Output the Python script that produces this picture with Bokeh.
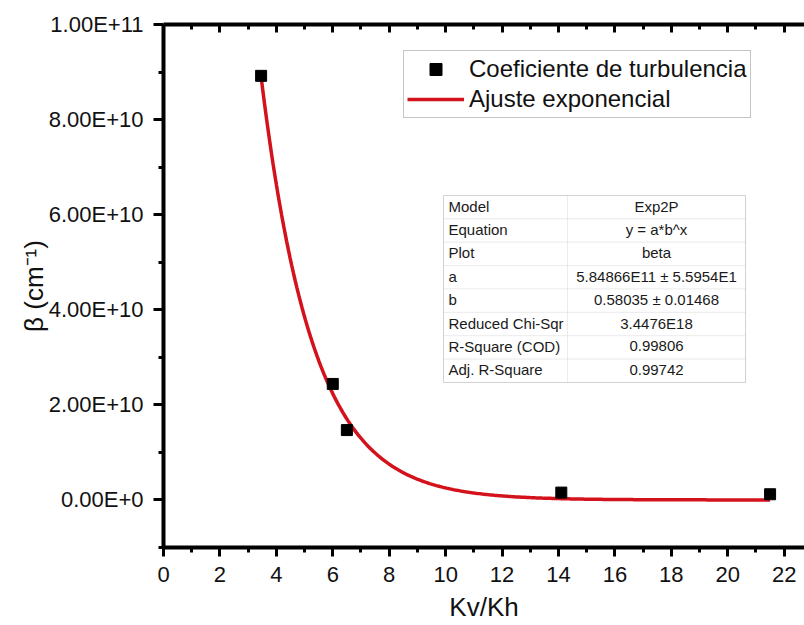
import numpy as np
from bokeh.plotting import figure
from bokeh.models import (Range1d, LinearAxis, FixedTicker, CustomJSTickFormatter,
                          Legend, LegendItem, BoxAnnotation, Label)
from bokeh.embed import file_html
from bokeh.resources import INLINE

# ---------------- data ----------------
kv_kh = [3.46, 6.0, 6.5, 14.1, 21.5]
beta = [8.92e10, 2.44e10, 1.47e10, 1.55e9, 1.2e9]

fit_a = 5.84866e11
fit_b = 0.58035

x_ticks = list(range(0, 23, 2))
x_minor = list(range(1, 23, 2))
y_ticks = [0, 2e10, 4e10, 6e10, 8e10, 1e11]
y_minor = [-1e10, 1e10, 3e10, 5e10, 7e10, 9e10]

table_names = ["Model", "Equation", "Plot", "a", "b",
               "Reduced Chi-Sqr", "R-Square (COD)", "Adj. R-Square"]
table_values = ["Exp2P", "y = a*b^x", "beta", "5.84866E11 \u00b1 5.5954E1",
                "0.58035 \u00b1 0.01468", "3.4476E18", "0.99806", "0.99742"]

# ---------------- layout constants ----------------
X0, X1 = 0, 22.72
Y0, Y1 = -1e10, 1e11
FL, FR, FT, FB = 163, 804, 24, 547   # frame pixel box
W, H = 804, 625
FONT = "Liberation Sans"
RED = "#d3121c"


def px_x(px):
    return X0 + (px - FL) / (FR - FL) * (X1 - X0)


def px_y(py):
    return Y1 - (py - FT) / (FB - FT) * (Y1 - Y0)


p = figure(width=W, height=H, output_backend="svg", toolbar_location=None,
           x_range=Range1d(X0, X1), y_range=Range1d(Y0, Y1),
           min_border_left=FL, min_border_right=W - FR,
           min_border_top=FT, min_border_bottom=H - FB)
p.outline_line_color = None
p.grid.visible = False
p.background_fill_color = "white"
p.border_fill_color = "white"

# fitted curve y = a*b^x evaluated over the data span
xf = np.linspace(min(kv_kh), max(kv_kh), 300)
yf = fit_a * fit_b ** xf
fit_r = p.line(xf, yf, line_color=RED, line_width=3.5)
pts_r = p.scatter(kv_kh, beta, marker="square", size=11, color="black")


def style_axis(ax):
    ax.axis_line_width = 4
    ax.axis_line_color = "black"
    ax.major_tick_line_width = 3
    ax.minor_tick_line_width = 3
    ax.major_tick_line_color = "black"
    ax.minor_tick_line_color = "black"
    ax.major_label_text_font = FONT
    ax.major_label_text_font_size = "22px"
    ax.major_label_text_color = "#111111"
    ax.axis_label_text_font = FONT
    ax.axis_label_text_font_size = "26px"
    ax.axis_label_text_font_style = "normal"
    ax.axis_label_text_color = "#111111"


xa = p.xaxis[0]
style_axis(xa)
xa.ticker = FixedTicker(ticks=x_ticks, minor_ticks=x_minor)
xa.major_tick_out = 9
xa.major_tick_in = 0
xa.minor_tick_out = 5
xa.minor_tick_in = 0
xa.major_label_standoff = 10
xa.axis_label = "Kv/Kh"
xa.axis_label_standoff = 7

ya = p.yaxis[0]
style_axis(ya)
ya.ticker = FixedTicker(ticks=y_ticks, minor_ticks=y_minor)
ya.formatter = CustomJSTickFormatter(code="return tick.toExponential(2).toUpperCase();")
ya.major_tick_out = 10
ya.major_tick_in = 0
ya.minor_tick_out = 5
ya.minor_tick_in = 0
ya.major_label_standoff = 10
ya.axis_label = "\u03b2 (cm\u207b\u00b9)"
ya.axis_label_standoff = -3

top = LinearAxis(ticker=FixedTicker(ticks=x_ticks, minor_ticks=x_minor),
                 formatter=CustomJSTickFormatter(code="return '';"))
style_axis(top)
top.major_label_text_font_size = "0px"
top.major_tick_out = 0
top.major_tick_in = 8
top.minor_tick_out = 0
top.minor_tick_in = 5
top.major_label_standoff = 0
p.add_layout(top, "above")

# ---------------- statistics table ----------------
T_L, T_R, T_DIV, T_T, T_B = 443, 745, 567, 195, 382
ROW_H = (T_B - T_T) / len(table_names)
for i, (nm, val) in enumerate(zip(table_names, table_values)):
    top_px = T_T + i * ROW_H
    bot_px = top_px + ROW_H
    for (l, r) in [(T_L, T_DIV), (T_DIV, T_R)]:
        p.add_layout(BoxAnnotation(left=px_x(l), right=px_x(r), top=px_y(top_px), bottom=px_y(bot_px),
                                   fill_color="white", fill_alpha=1.0,
                                   line_color="#d2d2d2", line_width=1, level="annotation"))
    ymid = px_y(top_px + ROW_H / 2 - 1)
    p.add_layout(Label(x=px_x(T_L + 5), y=ymid, text=nm, text_align="left", text_baseline="middle",
                       text_font=FONT, text_font_size="15px", text_color="#1a1a1a"))
    p.add_layout(Label(x=px_x((T_DIV + T_R) / 2), y=ymid, text=val, text_align="center",
                       text_baseline="middle", text_font=FONT, text_font_size="15px",
                       text_color="#1a1a1a"))
p.add_layout(BoxAnnotation(left=px_x(T_L), right=px_x(T_R), top=px_y(T_T),
                           bottom=px_y(T_B), fill_color=None,
                           line_color="#8c8c8c", line_width=1, level="annotation"))

# ---------------- legend ----------------
legend = Legend(items=[LegendItem(label="Coeficiente de turbulencia", renderers=[pts_r]),
                       LegendItem(label="Ajuste exponencial", renderers=[fit_r])],
                location=(403 - FL, FB - 118))
legend.padding = 3
legend.spacing = 0
legend.margin = 0
legend.glyph_width = 57
legend.glyph_height = 30
legend.label_height = 30
legend.label_standoff = 5
legend.label_text_font = FONT
legend.label_text_font_size = "24px"
legend.label_text_color = "#111111"
legend.border_line_color = "#8c8c8c"
legend.border_line_width = 1
legend.background_fill_color = "white"
legend.background_fill_alpha = 1.0
p.add_layout(legend)

open("out.html", "w").write(file_html(p, INLINE))
